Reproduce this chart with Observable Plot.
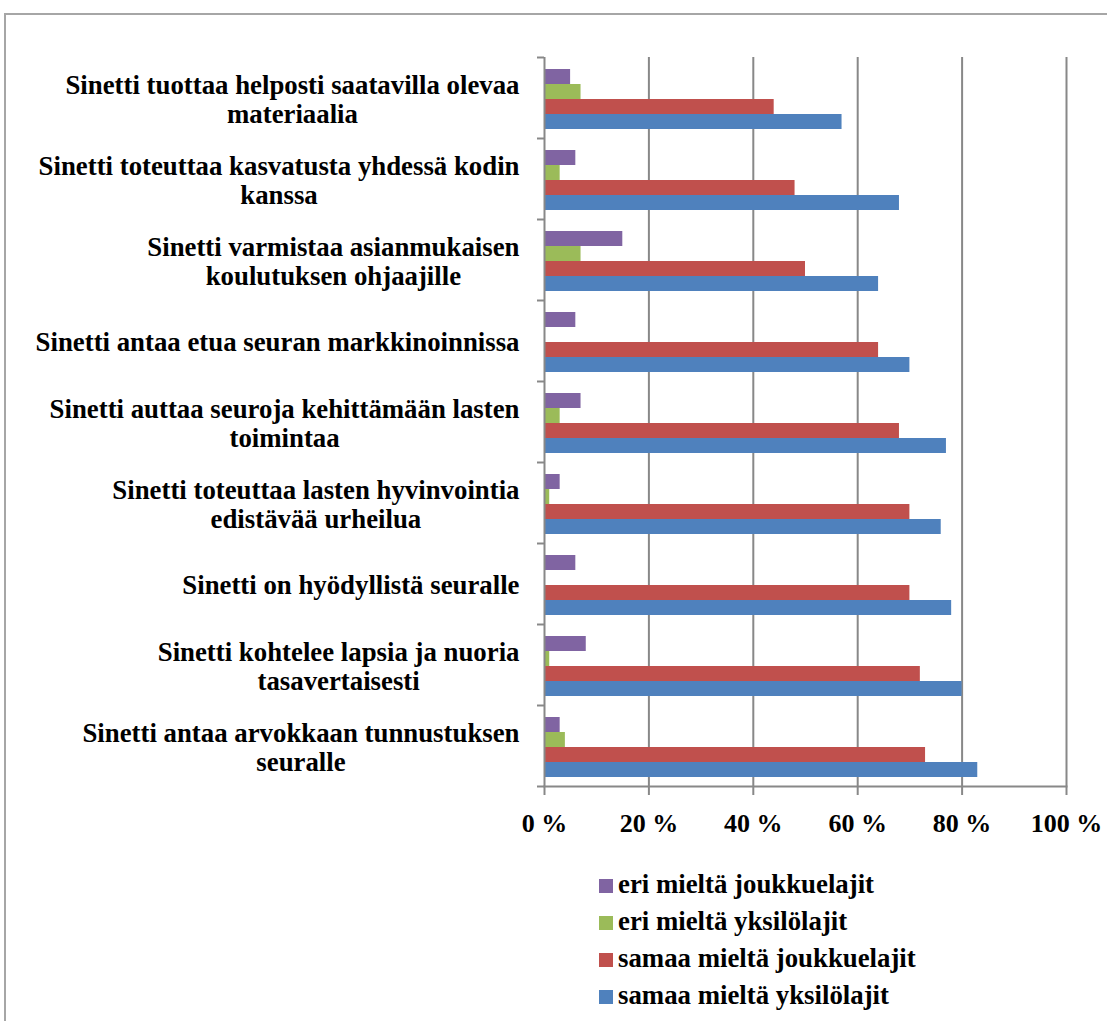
<!DOCTYPE html>
<html>
<head>
<meta charset="utf-8">
<script src="https://cdn.jsdelivr.net/npm/d3@7"></script>
<script src="https://cdn.jsdelivr.net/npm/@observablehq/plot@0.6"></script>
<style>
  html, body { margin: 0; padding: 0; background: #fff; overflow: hidden; }
  body { width: 1107px; height: 1021px; position: relative; font-family: "Liberation Serif", "Times New Roman", serif; }
  #chart { position: absolute; left: 0; top: 0; }
  #frame { position: absolute; left: 4px; top: 13px; width: 1200px; height: 1100px;
           border-top: 2px solid #a6a6a6; border-left: 2px solid #a6a6a6; pointer-events: none; }
  #legend { position: absolute; left: 599px; top: 866px; font-weight: bold; font-size: 26.8px; line-height: 37px; }
  #legend .row { white-space: nowrap; }
  #legend .sw { display: inline-block; width: 14px; height: 14px; margin-right: 5px; }
</style>
</head>
<body>
<div id="chart"></div>
<div id="legend"></div>
<div id="frame"></div>
<script>
// ---- data ----
const categories = [
  "Sinetti tuottaa helposti saatavilla olevaa\nmateriaalia",
  "Sinetti toteuttaa kasvatusta yhdessä kodin\nkanssa",
  "Sinetti varmistaa asianmukaisen\nkoulutuksen ohjaajille",
  "Sinetti antaa etua seuran markkinoinnissa",
  "Sinetti auttaa seuroja kehittämään lasten\ntoimintaa",
  "Sinetti toteuttaa lasten hyvinvointia\nedistävää urheilua",
  "Sinetti on hyödyllistä seuralle",
  "Sinetti kohtelee lapsia ja nuoria\ntasavertaisesti",
  "Sinetti antaa arvokkaan tunnustuksen\nseuralle"
];
const seriesNames = [
  "eri mieltä joukkuelajit",
  "eri mieltä yksilölajit",
  "samaa mieltä joukkuelajit",
  "samaa mieltä yksilölajit"
];
const eriJoukkuelajit   = [5, 6, 15, 6, 7, 3, 6, 8, 3];
const eriYksilolajit    = [7, 3, 7, 0, 3, 1, 0, 1, 4];
const samaaJoukkuelajit = [44, 48, 50, 64, 68, 70, 70, 72, 73];
const samaaYksilolajit  = [57, 68, 64, 70, 77, 76, 78, 80, 83];
const xTicks = [0, 20, 40, 60, 80, 100];

// ---- styles / layout ----
const seriesValues = [eriJoukkuelajit, eriYksilolajit, samaaJoukkuelajit, samaaYksilolajit];
const colors = ["#8064A2", "#9BBB59", "#C0504D", "#4F81BD"];
const W = 1107, H = 850, mTop = 57, mBottom = 64, mLeft = 544, mRight = 41;
const bw = (H - mTop - mBottom) / categories.length;
const barTop = 12, barH = 15;
const FONT = "'Liberation Serif', 'Times New Roman', serif";
const FS = 26.8, TFS = 26;
const gridColor = "#888";

const rows = [];
categories.forEach((c, ci) => {
  seriesNames.forEach((s, si) => rows.push({category: c, series: s, value: seriesValues[si][ci]}));
});

// measure first line widths to center wrapped lines under the first line
const ctx = document.createElement("canvas").getContext("2d");
ctx.font = `bold ${FS}px ${FONT}`;
const labelGap = 25;

const labelMarks = categories.map(c => {
  const first = c.split("\n")[0];
  const w = ctx.measureText(first).width;
  return Plot.text([c], {
    y: d => d, frameAnchor: "left", text: d => d,
    textAnchor: "middle", dx: -(labelGap + w / 2), dy: 1,
    lineHeight: 1.1, fontSize: FS, fontWeight: "bold", fill: "black"
  });
});

const barMarks = seriesNames.map((s, i) => Plot.barX(rows.filter(r => r.series === s), {
  x: "value", y: "category", fill: colors[i],
  insetTop: barTop + i * barH, insetBottom: bw - barTop - (i + 1) * barH
}));

const chart = Plot.plot({
  width: W, height: H,
  marginTop: mTop, marginBottom: mBottom, marginLeft: mLeft, marginRight: mRight,
  style: {fontFamily: FONT, background: "transparent"},
  x: {domain: [0, 100]},
  y: {type: "band", domain: categories, padding: 0},
  marks: [
    Plot.gridX(xTicks.slice(1), {stroke: gridColor, strokeOpacity: 1, strokeWidth: 2}),
    ...barMarks,
    Plot.ruleX([0], {stroke: gridColor, strokeWidth: 2}),
    Plot.frame({anchor: "bottom", stroke: gridColor, strokeWidth: 2}),
    Plot.axisY({tickSize: 7, tickFormat: () => "", dy: -bw / 2, stroke: gridColor, strokeWidth: 2, label: null}),
    Plot.axisY([categories[categories.length - 1]], {tickSize: 7, tickFormat: () => "", dy: bw / 2, stroke: gridColor, strokeWidth: 2, label: null}),
    Plot.axisX(xTicks, {
      tickSize: 9, tickPadding: 18, tickFormat: d => d + " %", label: null,
      stroke: gridColor, strokeWidth: 2, fill: "black",
      fontSize: TFS, fontWeight: "bold"
    }),
    ...labelMarks
  ]
});
document.getElementById("chart").appendChild(chart);

// legend
const legend = document.getElementById("legend");
seriesNames.forEach((s, i) => {
  const row = document.createElement("div");
  row.className = "row";
  const sw = document.createElement("span");
  sw.className = "sw";
  sw.style.background = colors[i];
  row.appendChild(sw);
  row.appendChild(document.createTextNode(s));
  legend.appendChild(row);
});
</script>
</body>
</html>
